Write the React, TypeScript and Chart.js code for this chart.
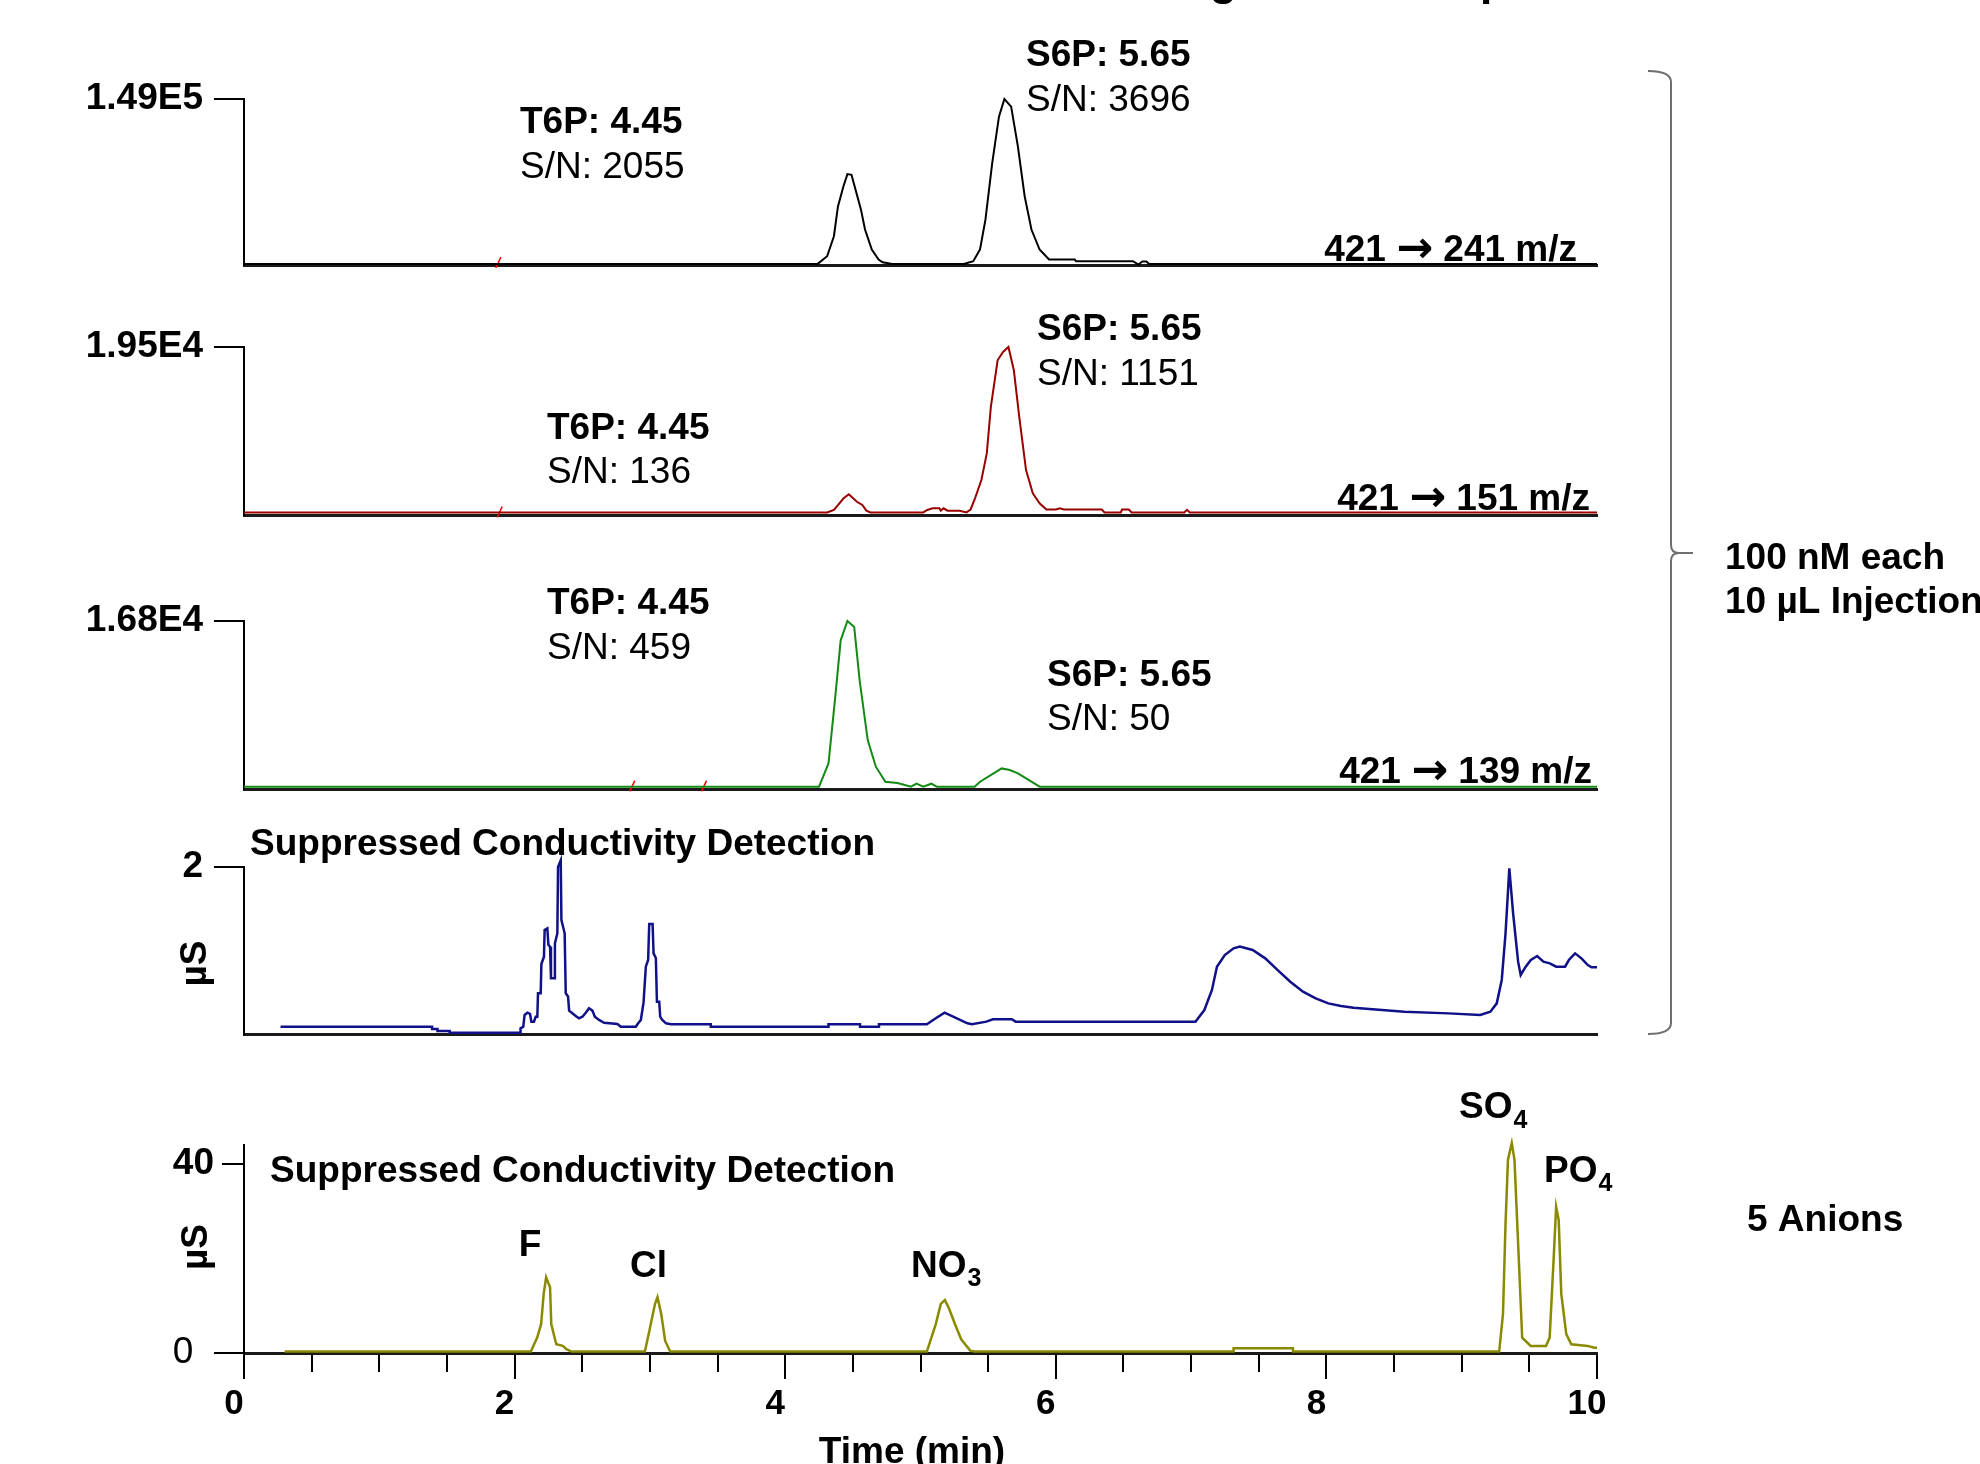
import React, { useEffect, useRef } from 'react';
import { Chart, registerables } from 'chart.js';

Chart.register(...registerables);

const FONT = "'Liberation Sans', Arial, Helvetica, sans-serif";
const ARROW_FONT = "'DejaVu Sans', 'Liberation Sans', sans-serif";
Chart.defaults.font.family = FONT;
Chart.defaults.color = '#000';

// ---------------- DATA ----------------
// time (min) axis ticks and labelled ticks
const xTicks = [0, 0.5, 1, 1.5, 2, 2.5, 3, 3.5, 4, 4.5, 5, 5.5, 6, 6.5, 7, 7.5, 8, 8.5, 9, 9.5, 10];
const xTickLabeled = [0, 2, 4, 6, 8, 10];

// y-axis top values / tick labels for each trace
const yTopValues = [149000, 19500, 16800, 2, 44];
const yTickLabels = ['1.49E5', '1.95E4', '1.68E4', '2'];
const anionYTicks = [0, 40];
const anionYTickLabels = ['0  ', '40'];

// 421 -> 241 m/z  [time, counts]
const trace241 = [
  [0, 1000], [4.24, 1000], [4.31, 7900], [4.36, 25800], [4.39, 52600], [4.43, 70500], [4.46, 81600],
  [4.49, 81000], [4.52, 67600], [4.56, 49700], [4.59, 31800], [4.64, 13900], [4.69, 4900], [4.72, 2500],
  [4.79, 1000], [5.32, 1000], [5.39, 3400], [5.44, 13900], [5.48, 40700], [5.53, 91500], [5.58, 133200],
  [5.62, 149000], [5.67, 142100], [5.72, 106300], [5.77, 61600], [5.82, 31800], [5.88, 13900], [5.95, 4900],
  [6.14, 4900], [6.15, 3400], [6.57, 3400], [6.59, 2000], [6.61, 450], [6.64, 3100], [6.67, 3100], [6.69, 1000],
  [10, 1000],
];
// 421 -> 151 m/z
const trace151 = [
  [0, 300], [4.31, 300], [4.36, 580], [4.39, 1160], [4.43, 1910], [4.47, 2400], [4.49, 2120], [4.53, 1540],
  [4.57, 1160], [4.6, 500], [4.63, 300], [5.02, 300], [5.05, 580], [5.09, 780], [5.14, 780], [5.15, 500],
  [5.17, 780], [5.2, 500], [5.29, 500], [5.34, 300], [5.37, 640], [5.4, 1800], [5.45, 4060], [5.49, 7150],
  [5.52, 12550], [5.57, 17960], [5.61, 18930], [5.65, 19500], [5.69, 16800], [5.73, 11390], [5.78, 5215],
  [5.83, 2510], [5.88, 1360], [5.93, 640], [6.0, 640], [6.03, 780], [6.06, 640], [6.34, 640], [6.36, 300],
  [6.48, 300], [6.49, 640], [6.54, 640], [6.56, 300], [6.95, 300], [6.97, 600], [6.99, 300], [10, 300],
];
// 421 -> 139 m/z
const trace139 = [
  [0, 230], [4.25, 230], [4.32, 2560], [4.37, 9210], [4.41, 14870], [4.46, 16800], [4.51, 16200],
  [4.55, 10880], [4.61, 4890], [4.67, 2230], [4.74, 730], [4.83, 600], [4.93, 230], [4.97, 530], [5.02, 230],
  [5.08, 530], [5.12, 230], [5.4, 230], [5.44, 730], [5.54, 1570], [5.6, 2060], [5.66, 1900], [5.72, 1570],
  [5.82, 730], [5.88, 230], [10, 230],
];
// suppressed conductivity, sugar phosphate run (µS)
const traceCond = [
  [0.27, 0.087], [1.39, 0.087], [1.39, 0.06], [1.43, 0.06], [1.43, 0.036], [1.52, 0.036], [1.52, 0.016],
  [2.04, 0.016], [2.044, 0.068], [2.064, 0.087], [2.074, 0.228], [2.094, 0.255], [2.114, 0.24], [2.124, 0.148],
  [2.143, 0.148], [2.156, 0.207], [2.168, 0.207], [2.173, 0.487], [2.193, 0.487], [2.198, 0.838], [2.217, 0.926],
  [2.222, 1.245], [2.242, 1.265], [2.25, 1.066], [2.262, 1.046], [2.269, 0.667], [2.296, 0.667], [2.298, 1.086],
  [2.316, 1.206], [2.321, 2.0], [2.341, 2.08], [2.346, 1.365], [2.37, 1.206], [2.378, 0.487], [2.395, 0.45],
  [2.403, 0.279], [2.427, 0.248], [2.452, 0.216], [2.476, 0.188], [2.501, 0.207], [2.526, 0.255], [2.55, 0.308],
  [2.575, 0.28], [2.593, 0.207], [2.624, 0.168], [2.662, 0.135], [2.76, 0.12], [2.785, 0.087], [2.896, 0.087],
  [2.909, 0.12], [2.933, 0.168], [2.953, 0.375], [2.97, 0.806], [2.987, 0.886], [2.995, 1.317], [3.02, 1.317],
  [3.027, 0.966], [3.044, 0.91], [3.052, 0.387], [3.069, 0.387], [3.076, 0.207], [3.09, 0.17], [3.119, 0.128],
  [3.156, 0.116], [3.45, 0.116], [3.45, 0.087], [4.32, 0.087], [4.32, 0.116], [4.553, 0.116], [4.553, 0.087],
  [4.693, 0.087], [4.693, 0.116], [5.047, 0.116], [5.113, 0.188], [5.178, 0.255], [5.253, 0.2], [5.347, 0.128],
  [5.38, 0.116], [5.487, 0.148], [5.535, 0.176], [5.675, 0.176], [5.703, 0.148], [7.032, 0.148], [7.098, 0.287],
  [7.154, 0.527], [7.191, 0.806], [7.249, 0.946], [7.314, 1.026], [7.36, 1.046], [7.455, 1.006], [7.548, 0.906],
  [7.64, 0.766], [7.733, 0.626], [7.827, 0.507], [7.921, 0.427], [8.014, 0.367], [8.108, 0.335], [8.201, 0.315],
  [8.341, 0.295], [8.576, 0.267], [8.903, 0.247], [9.137, 0.228], [9.212, 0.267], [9.259, 0.367], [9.296, 0.647],
  [9.324, 1.206], [9.352, 1.984], [9.38, 1.445], [9.417, 0.866], [9.436, 0.707], [9.473, 0.806], [9.511, 0.886],
  [9.558, 0.934], [9.604, 0.866], [9.651, 0.846], [9.698, 0.806], [9.764, 0.806], [9.792, 0.886], [9.838, 0.966],
  [9.885, 0.906], [9.932, 0.826], [9.96, 0.798], [10.0, 0.798],
];
// suppressed conductivity, 5 anions (µS)
const traceAnions = [
  [0.3, 0.3], [2.12, 0.3], [2.167, 3.26], [2.196, 6.1], [2.215, 12.5], [2.233, 16.0], [2.262, 13.9], [2.271, 6.1],
  [2.308, 1.85], [2.356, 1.5], [2.383, 0.8], [2.42, 0.3], [2.963, 0.3], [2.991, 4.0], [3.038, 10.4], [3.056, 11.8],
  [3.084, 8.2], [3.113, 2.55], [3.15, 0.3], [5.047, 0.3], [5.113, 6.1], [5.15, 10.4], [5.18, 11.2], [5.208, 9.6],
  [5.255, 6.1], [5.301, 2.9], [5.367, 0.5], [5.4, 0.3], [7.314, 0.3], [7.314, 1.0], [7.753, 1.0], [7.753, 0.3],
  [9.277, 0.3], [9.305, 8.2], [9.324, 27.4], [9.342, 40.9], [9.37, 44.4], [9.39, 40.9], [9.417, 23.1],
  [9.447, 3.26], [9.51, 1.5], [9.623, 1.5], [9.65, 3.26], [9.679, 19.6], [9.698, 30.9], [9.717, 28.1],
  [9.736, 12.5], [9.773, 4.0], [9.81, 1.85], [9.932, 1.5], [9.98, 1.1], [10.0, 1.1],
];
// small red integration marks
const marks241 = [[1.88, 2200]];
const marks151 = [[1.89, 350]];
const marks139 = [[2.87, 300], [3.4, 300]];

// ---------------- LAYOUT ----------------
const W = 1980;
const H = 1464;
const X_LEFT = 244;
const X_RIGHT = 1597;
const FS = 37; // main font size
const DY = 3; // vertical nudge for middle-baseline labels

type Part = { text: string; family?: string; size?: number };
type Label = {
  text: string; x: number; y: number; bold?: boolean; size?: number;
  align?: CanvasTextAlign; sub?: string; baseline?: CanvasTextBaseline; rot?: boolean; parts?: Part[];
};

const mz = (a: string, b: string): Part[] => [
  { text: a + ' ' }, { text: '\u2192', family: ARROW_FONT, size: 44 }, { text: ' ' + b + ' m/z' },
];

const labels241: Label[] = [
  { text: 'T6P: 4.45', x: 520, y: 120, bold: true },
  { text: 'S/N: 2055', x: 520, y: 164.5 },
  { text: 'S6P: 5.65', x: 1026, y: 52.5, bold: true },
  { text: 'S/N: 3696', x: 1026, y: 97.5 },
  { text: '421 \u2192 241 m/z', parts: mz('421', '241'), x: 1577, y: 247.5, bold: true, align: 'right' },
  { text: 'g', x: 1210, y: -5, bold: true, size: 44, baseline: 'alphabetic' },
  { text: 'p', x: 1480, y: -5, bold: true, size: 44, baseline: 'alphabetic' },
  { text: '100 nM each', x: 1725, y: 555.5, bold: true },
  { text: '10 \u00b5L Injection', x: 1725, y: 600, bold: true },
];
const labels151: Label[] = [
  { text: 'S6P: 5.65', x: 1037, y: 326.7, bold: true },
  { text: 'S/N: 1151', x: 1037, y: 371.7 },
  { text: 'T6P: 4.45', x: 547, y: 426, bold: true },
  { text: 'S/N: 136', x: 547, y: 470 },
  { text: '421 \u2192 151 m/z', parts: mz('421', '151'), x: 1590, y: 496.7, bold: true, align: 'right' },
];
const labels139: Label[] = [
  { text: 'T6P: 4.45', x: 547, y: 600.8, bold: true },
  { text: 'S/N: 459', x: 547, y: 646 },
  { text: 'S6P: 5.65', x: 1047, y: 673, bold: true },
  { text: 'S/N: 50', x: 1047, y: 717 },
  { text: '421 \u2192 139 m/z', parts: mz('421', '139'), x: 1592, y: 769.5, bold: true, align: 'right' },
];
const labelsCond: Label[] = [
  { text: 'Suppressed Conductivity Detection', x: 250, y: 841.5, bold: true },
  { text: '\u00b5S', x: 196, y: 963.5, bold: true, align: 'center', rot: true },
];
const labelsAnions: Label[] = [
  { text: 'Suppressed Conductivity Detection', x: 270, y: 1168.5, bold: true },
  { text: '\u00b5S', x: 197, y: 1247, bold: true, align: 'center', rot: true },
  { text: 'F', x: 530, y: 1242.5, bold: true, align: 'center' },
  { text: 'Cl', x: 630, y: 1264, bold: true },
  { text: 'NO', sub: '3', x: 911, y: 1263.5, bold: true },
  { text: 'SO', sub: '4', x: 1459, y: 1105, bold: true },
  { text: 'PO', sub: '4', x: 1544, y: 1168.5, bold: true },
  { text: '5 Anions', x: 1747, y: 1217.5, bold: true },
  { text: 'Time (min)', x: 912, y: 1463, bold: true, align: 'center', baseline: 'alphabetic' },
];

function fontStr(bold: boolean | undefined, size: number, family: string) {
  return `${bold ? 'bold ' : ''}${size}px ${family}`;
}

function drawLabel(ctx: CanvasRenderingContext2D, t: Label) {
  const size = t.size ?? FS;
  const baseline = t.baseline ?? 'middle';
  const y = baseline === 'middle' ? t.y + DY : t.y;
  ctx.save();
  ctx.fillStyle = '#000';
  ctx.font = fontStr(t.bold, size, FONT);
  ctx.textBaseline = baseline;
  ctx.textAlign = t.align ?? 'left';
  if (t.rot) {
    ctx.translate(t.x, t.y);
    ctx.rotate(-Math.PI / 2);
    ctx.fillText(t.text, 0, 0);
  } else if (t.parts) {
    let total = 0;
    const widths = t.parts.map((p) => {
      ctx.font = fontStr(t.bold, p.size ?? size, p.family ?? FONT);
      const w = ctx.measureText(p.text).width;
      total += w;
      return w;
    });
    let x = t.align === 'right' ? t.x - total : t.align === 'center' ? t.x - total / 2 : t.x;
    ctx.textAlign = 'left';
    t.parts.forEach((p, i) => {
      ctx.font = fontStr(t.bold, p.size ?? size, p.family ?? FONT);
      ctx.fillText(p.text, x, y);
      x += widths[i];
    });
  } else {
    ctx.fillText(t.text, t.x, y);
    if (t.sub) {
      const w = ctx.measureText(t.text).width;
      ctx.font = fontStr(true, 25, FONT);
      ctx.textAlign = 'left';
      ctx.fillText(t.sub, t.x + w + 1, y + 13);
    }
  }
  ctx.restore();
}

function drawBracket(ctx: CanvasRenderingContext2D) {
  ctx.save();
  ctx.strokeStyle = '#6e6e6e';
  ctx.lineWidth = 2;
  ctx.beginPath();
  ctx.moveTo(1648, 71);
  ctx.quadraticCurveTo(1671, 71, 1671, 82);
  ctx.lineTo(1671, 545);
  ctx.quadraticCurveTo(1671, 553, 1679, 553);
  ctx.lineTo(1693, 553);
  ctx.moveTo(1679, 553);
  ctx.quadraticCurveTo(1671, 553, 1671, 561);
  ctx.lineTo(1671, 1023);
  ctx.quadraticCurveTo(1671, 1034, 1648, 1034);
  ctx.stroke();
  ctx.restore();
}

type Panel = {
  id: string;
  top: number;
  bottom: number;
  yMax: number;
  yTicks: number[];
  yLabel: (v: number) => string;
  color: string;
  width: number;
  trace: number[][];
  marks: number[][];
  labels: Label[];
  bottomAxis: boolean;
  bracket?: boolean;
};

const panels: Panel[] = [
  { id: 'p241', top: 99, bottom: 265, yMax: yTopValues[0], yTicks: [yTopValues[0]], yLabel: () => yTickLabels[0],
    color: '#000000', width: 2, trace: trace241, marks: marks241, labels: labels241, bottomAxis: false, bracket: true },
  { id: 'p151', top: 347, bottom: 515, yMax: yTopValues[1], yTicks: [yTopValues[1]], yLabel: () => yTickLabels[1],
    color: '#990000', width: 2, trace: trace151, marks: marks151, labels: labels151, bottomAxis: false },
  { id: 'p139', top: 621, bottom: 789, yMax: yTopValues[2], yTicks: [yTopValues[2]], yLabel: () => yTickLabels[2],
    color: '#138a13', width: 2, trace: trace139, marks: marks139, labels: labels139, bottomAxis: false },
  { id: 'pcond', top: 867, bottom: 1034, yMax: yTopValues[3], yTicks: [yTopValues[3]], yLabel: () => yTickLabels[3],
    color: '#101088', width: 2.5, trace: traceCond, marks: [], labels: labelsCond, bottomAxis: false },
  { id: 'panion', top: 1145, bottom: 1353, yMax: yTopValues[4], yTicks: anionYTicks,
    yLabel: (v) => anionYTickLabels[anionYTicks.indexOf(v)],
    color: '#8a8a00', width: 2.5, trace: traceAnions, marks: [], labels: labelsAnions, bottomAxis: true },
];

function buildConfig(p: Panel): any {
  const xh = p.bottomAxis ? 100 : 0;
  const datasets: any[] = [
    {
      data: p.trace.map(([x, y]) => ({ x, y })),
      borderColor: p.color,
      borderWidth: p.width,
      pointRadius: 0,
      tension: 0,
      fill: false,
      clip: false,
    },
  ];
  if (p.marks.length) {
    datasets.push({
      data: p.marks.map(([x, y]) => ({ x, y })),
      showLine: false,
      pointStyle: 'line',
      pointRadius: 6,
      pointRotation: -65,
      pointBorderColor: '#ff0000',
      borderColor: '#ff0000',
      pointBorderWidth: 1.5,
      clip: false,
    });
  }
  const xScale: any = p.bottomAxis
    ? {
        type: 'linear', min: 0, max: 10, position: 'bottom',
        afterFit: (s: any) => { s.height = xh; },
        afterBuildTicks: (s: any) => { s.ticks = xTicks.map((v) => ({ value: v })); },
        ticks: {
          autoSkip: false, maxRotation: 0, padding: 4, labelOffset: -10, color: '#000',
          font: { family: FONT, size: 35, weight: 'bold' },
          callback: (v: number) => (xTickLabeled.includes(v) ? String(v) : ''),
        },
        grid: {
          drawOnChartArea: false, drawTicks: true, tickLength: 26, tickWidth: 2, tickColor: '#000',
          color: '#000', lineWidth: 2,
          tickBorderDash: (ctx: any) => (ctx.tick && xTickLabeled.includes(ctx.tick.value) ? [] : [17, 200]),
        },
        border: { display: true, color: '#1a1a1a', width: 3 },
      }
    : {
        type: 'linear', min: 0, max: 10, position: 'bottom',
        afterFit: (s: any) => { s.height = 0; },
        ticks: { display: false },
        grid: { display: false, drawTicks: false },
        border: { display: true, color: '#1a1a1a', width: 3 },
      };
  const yScale: any = {
    type: 'linear', min: 0, max: p.yMax, position: 'left',
    afterFit: (s: any) => { s.width = X_LEFT; },
    afterBuildTicks: (s: any) => { s.ticks = p.yTicks.map((v) => ({ value: v })); },
    ticks: {
      autoSkip: false, padding: p.bottomAxis ? 0 : 11, color: '#000',
      font: (ctx: any) => ({ family: FONT, size: FS, weight: p.bottomAxis && ctx.tick && ctx.tick.value === 0 ? 'normal' : 'bold' }),
      callback: (v: number) => p.yLabel(v),
    },
    grid: {
      drawOnChartArea: false, tickLength: 30, tickWidth: 2, tickColor: '#000', color: '#000', lineWidth: 2,
      tickBorderDash: (ctx: any) => (p.bottomAxis && ctx.tick && ctx.tick.value !== 0 ? [0, 8, 40, 0] : []),
    },
    border: { display: true, color: '#000', width: 2 },
  };
  return {
    type: 'line',
    data: { datasets },
    options: {
      responsive: false,
      animation: false,
      devicePixelRatio: 1,
      events: [],
      layout: {
        autoPadding: false,
        padding: { left: 0, top: p.top, right: W - X_RIGHT, bottom: H - p.bottom - xh },
      },
      plugins: { legend: { display: false }, tooltip: { enabled: false }, title: { display: false } },
      scales: { x: xScale, y: yScale },
    },
    plugins: [
      {
        id: 'annot_' + p.id,
        afterDraw(chart: any) {
          const ctx = chart.ctx as CanvasRenderingContext2D;
          for (const t of p.labels) drawLabel(ctx, t);
          if (p.bracket) drawBracket(ctx);
        },
      },
    ],
  };
}

function PanelCanvas({ panel }: { panel: Panel }) {
  const ref = useRef<HTMLCanvasElement | null>(null);
  useEffect(() => {
    if (!ref.current) return;
    const chart = new Chart(ref.current, buildConfig(panel));
    return () => chart.destroy();
  }, [panel]);
  return (
    <canvas
      ref={ref}
      width={W}
      height={H}
      style={{ position: 'absolute', left: 0, top: 0, width: W, height: H }}
    />
  );
}

export default function App() {
  return (
    <div style={{ position: 'fixed', left: 0, top: 0, width: W, height: H, background: '#fff', overflow: 'hidden' }}>
      {panels.map((p) => (
        <PanelCanvas key={p.id} panel={p} />
      ))}
    </div>
  );
}
